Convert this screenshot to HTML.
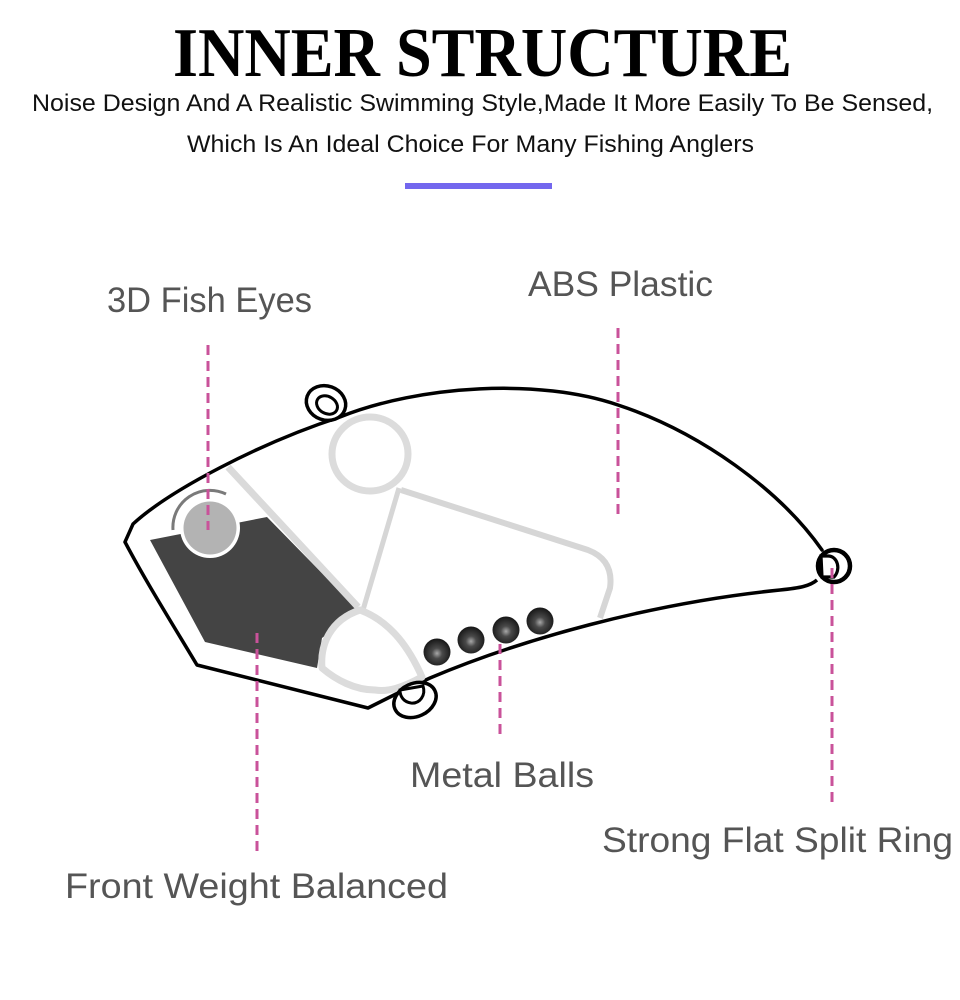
<!DOCTYPE html>
<html>
<head>
<meta charset="utf-8">
<style>
  html,body{margin:0;padding:0;background:#fff;}
  body{width:960px;height:1000px;overflow:hidden;}
  svg{display:block;}
</style>
</head>
<body>
<svg width="960" height="1000" viewBox="0 0 960 1000" xmlns="http://www.w3.org/2000/svg">
  <defs>
    <radialGradient id="ball" cx="50%" cy="55%" r="55%">
      <stop offset="0" stop-color="#a8a8a8"/>
      <stop offset="0.35" stop-color="#4a4a4a"/>
      <stop offset="1" stop-color="#151515"/>
    </radialGradient>
  </defs>
  <rect width="960" height="1000" fill="#fff"/>

  <!-- Header -->
  <text x="173" y="76" font-family="'Liberation Serif', serif" font-weight="bold" font-size="70" fill="#000" textLength="619" lengthAdjust="spacingAndGlyphs">INNER STRUCTURE</text>
  <text x="32" y="111" font-family="'Liberation Sans', sans-serif" font-size="24" fill="#111" textLength="901" lengthAdjust="spacingAndGlyphs">Noise Design And A Realistic Swimming Style,Made It More Easily To Be Sensed,</text>
  <text x="187" y="152" font-family="'Liberation Sans', sans-serif" font-size="24" fill="#111" textLength="567" lengthAdjust="spacingAndGlyphs">Which Is An Ideal Choice For Many Fishing Anglers</text>
  <rect x="405" y="183" width="147" height="6" fill="#7367ee"/>

  <!-- Body outline -->
  <path d="M125,542 L133,524 C170,490 260,443 340,417 C420,385 540,378 618,405 C700,432 780,490 822,550"
        fill="none" stroke="#000" stroke-width="3.5" stroke-linecap="round"/>
  <path d="M817,580 C810,586 800,588 780,590 C650,603 520,640 430,678 L400,692 L368,708 L197,665 C170,620 145,580 125,542"
        fill="none" stroke="#000" stroke-width="3.5" stroke-linejoin="round"/>

  <!-- Dark front weight -->
  <polygon points="150,540 267,517 358,610 322,638 317,668 205,642" fill="#444"/>

  <!-- Gray internal structure -->
  <line x1="228" y1="467" x2="358" y2="607" stroke="#dadada" stroke-width="7"/>
  <line x1="399" y1="488" x2="363" y2="610" stroke="#d6d6d6" stroke-width="5"/>
  <path d="M401,490 L588,550 Q614,560 610,588 L600,618" fill="none" stroke="#d6d6d6" stroke-width="6" stroke-linejoin="round"/>
  <ellipse cx="370" cy="454" rx="38" ry="37" fill="#fff" stroke="#dcdcdc" stroke-width="7"/>
  <path d="M360,610 C392,622 410,650 422,677 C402,688 388,692 375,690 C355,690 336,680 322,668 C320,645 330,620 360,610 Z"
        fill="#fff" stroke="#dcdcdc" stroke-width="7" stroke-linejoin="round"/>

  <!-- Eye -->
  <circle cx="210" cy="528" r="30" fill="#fff"/>
  <circle cx="210" cy="528" r="26.5" fill="#b3b3b3"/>
  <path d="M173,530 A37,37 0 0 1 226,494" fill="none" stroke="#7a7a7a" stroke-width="3"/>

  <!-- Metal balls -->
  <circle cx="437" cy="652" r="13.5" fill="url(#ball)"/>
  <circle cx="471" cy="640" r="13.5" fill="url(#ball)"/>
  <circle cx="506" cy="630" r="13.5" fill="url(#ball)"/>
  <circle cx="540" cy="621" r="13.5" fill="url(#ball)"/>

  <!-- Top eyelet -->
  <ellipse cx="326" cy="403" rx="20" ry="17" transform="rotate(20 326 403)" fill="#fff" stroke="#000" stroke-width="3.5"/>
  <ellipse cx="327" cy="405" rx="11" ry="8.5" transform="rotate(30 327 405)" fill="#fff" stroke="#000" stroke-width="3"/>

  <!-- Bottom eyelet -->
  <ellipse cx="415" cy="700" rx="22" ry="16.5" transform="rotate(-25 415 700)" fill="#fff" stroke="#000" stroke-width="3.5"/>
  <path d="M400,690 L423,686 C426,695 420,704 411,703 C404,702 400,697 400,690 Z" fill="#fff" stroke="#000" stroke-width="3"/>

  <!-- Tail split ring -->
  <circle cx="834" cy="566" r="16" fill="#fff" stroke="#000" stroke-width="4.5"/>
  <path d="M821,556 L828,556 C838,556 841,570 834,577 L822,577 Z" fill="#fff" stroke="#000" stroke-width="3.2"/>

  <!-- Dashed leader lines -->
  <g stroke="#c9529a" stroke-width="3" stroke-dasharray="10 6" fill="none">
    <line x1="208" y1="345" x2="208" y2="530"/>
    <line x1="618" y1="328" x2="618" y2="514"/>
    <line x1="257" y1="633" x2="257" y2="852"/>
    <line x1="500" y1="644" x2="500" y2="738"/>
    <line x1="832" y1="568" x2="832" y2="808"/>
  </g>

  <!-- Labels -->
  <g font-family="'Liberation Sans', sans-serif" font-size="35" fill="#555">
    <text x="107" y="312" textLength="205" lengthAdjust="spacingAndGlyphs">3D Fish Eyes</text>
    <text x="528" y="296" textLength="185" lengthAdjust="spacingAndGlyphs">ABS Plastic</text>
    <text x="410" y="787" textLength="184" lengthAdjust="spacingAndGlyphs">Metal Balls</text>
    <text x="602" y="852" textLength="351" lengthAdjust="spacingAndGlyphs">Strong Flat Split Ring</text>
    <text x="65" y="898" textLength="383" lengthAdjust="spacingAndGlyphs">Front Weight Balanced</text>
  </g>
</svg>
</body>
</html>
